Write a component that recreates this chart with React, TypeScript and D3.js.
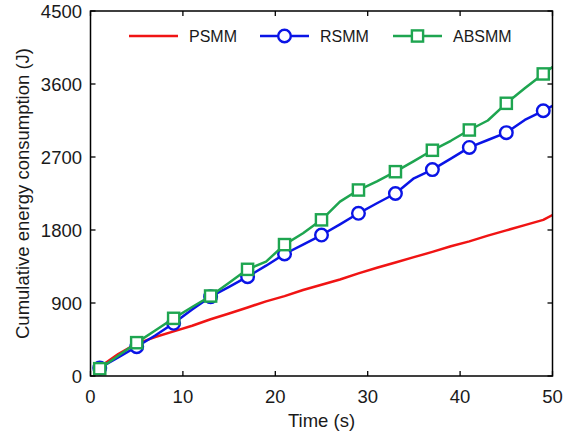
import React from "react";
import * as d3 from "d3";

const times = [1, 3, 5, 7, 9, 11, 13, 15, 17, 19, 21, 23, 25, 27, 29, 31, 33, 35, 37, 39, 41, 43, 45, 47, 49, 50];
const psmm = [110, 270, 400, 480, 550, 620, 700, 770, 845, 920, 985, 1060, 1125, 1190, 1265, 1335, 1400, 1465, 1530, 1600, 1660, 1730, 1795, 1860, 1925, 1985];
const rsmm = [100, 230, 361, 500, 650, 820, 978, 1100, 1224, 1360, 1504, 1620, 1738, 1870, 2006, 2130, 2250, 2437, 2545, 2680, 2818, 2910, 3000, 3157, 3270, 3330];
const absmm = [90, 250, 411, 560, 711, 850, 986, 1150, 1315, 1410, 1620, 1760, 1925, 2150, 2293, 2400, 2519, 2650, 2783, 2900, 3033, 3150, 3362, 3547, 3724, 3810];
const markerTimes = [1, 5, 9, 13, 17, 21, 25, 29, 33, 37, 41, 45, 49];
const xTicks = [0, 10, 20, 30, 40, 50];
const yTicks = [0, 900, 1800, 2700, 3600, 4500];
const seriesNames = ["PSMM", "RSMM", "ABSMM"];
const seriesColors = ["#f01414", "#0a14e6", "#1ea550"];

export default function App() {
  const W = 567, H = 434;
  const L = 90.5, R = 552.5, T = 11, B = 376;
  const x = d3.scaleLinear().domain([0, 50]).range([L, R]);
  const y = d3.scaleLinear().domain([0, 4500]).range([B, T]);
  const line = d3.line<[number, number]>().x(d => x(d[0])).y(d => y(d[1]));
  const series = [psmm, rsmm, absmm];
  const font = "'Liberation Sans', Arial, sans-serif";
  const tickLen = 5;

  const marker = (kind: number, cx: number, cy: number, color: string, key: string) => {
    if (kind === 1) return <circle key={key} cx={cx} cy={cy} r={6.3} fill="white" stroke={color} strokeWidth={2.4} />;
    if (kind === 2) return <rect key={key} x={cx - 5.6} y={cy - 5.6} width={11.2} height={11.2} fill="white" stroke={color} strokeWidth={2.4} />;
    return null;
  };

  const legendItems = [
    { lx: 129, tx: 189 },
    { lx: 260, tx: 320 },
    { lx: 393, tx: 453 },
  ];
  const legendY = 36;

  return (
    <svg width={W} height={H} style={{ position: "absolute", left: 0, top: 0, background: "white" }} fontFamily={font}>
      <rect x={0} y={0} width={W} height={H} fill="white" />
      {series.map((s, i) => (
        <g key={i}>
          <path d={line(times.map((t, j) => [t, s[j]] as [number, number])) || ""} fill="none" stroke={seriesColors[i]} strokeWidth={2.5} strokeLinejoin="round" />
          {i > 0 && markerTimes.map((mt) => {
            const j = times.indexOf(mt);
            return marker(i, x(mt), y(s[j]), seriesColors[i], `${i}-${mt}`);
          })}
        </g>
      ))}
      <rect x={L} y={T} width={R - L} height={B - T} fill="none" stroke="black" strokeWidth={1.5} />
      {xTicks.map((t) => (
        <g key={`xt${t}`}>
          <line x1={x(t)} x2={x(t)} y1={B} y2={B - tickLen} stroke="black" strokeWidth={1.3} />
          <line x1={x(t)} x2={x(t)} y1={T} y2={T + tickLen} stroke="black" strokeWidth={1.3} />
          <text x={x(t)} y={403} textAnchor="middle" fontSize={18.5} fill="#1a1a1a">{t}</text>
        </g>
      ))}
      {yTicks.map((t) => (
        <g key={`yt${t}`}>
          <line x1={L} x2={L + tickLen} y1={y(t)} y2={y(t)} stroke="black" strokeWidth={1.3} />
          <line x1={R} x2={R - tickLen} y1={y(t)} y2={y(t)} stroke="black" strokeWidth={1.3} />
          <text x={82} y={y(t)} dy="0.36em" textAnchor="end" fontSize={18.5} fill="#1a1a1a">{t}</text>
        </g>
      ))}
      <text x={(L + R) / 2} y={427} textAnchor="middle" fontSize={18.5} fill="#1a1a1a">Time (s)</text>
      <text transform={`translate(29,${(T + B) / 2}) rotate(-90)`} textAnchor="middle" fontSize={18.5} fill="#1a1a1a">Cumulative energy consumption (J)</text>
      {legendItems.map((it, i) => (
        <g key={`lg${i}`}>
          <line x1={it.lx} x2={it.lx + 49} y1={legendY} y2={legendY} stroke={seriesColors[i]} strokeWidth={2.5} />
          {marker(i, it.lx + 24.5, legendY, seriesColors[i], `lgm${i}`)}
          <text x={it.tx} y={legendY} dy="0.36em" fontSize={16} fill="#1a1a1a">{seriesNames[i]}</text>
        </g>
      ))}
    </svg>
  );
}
